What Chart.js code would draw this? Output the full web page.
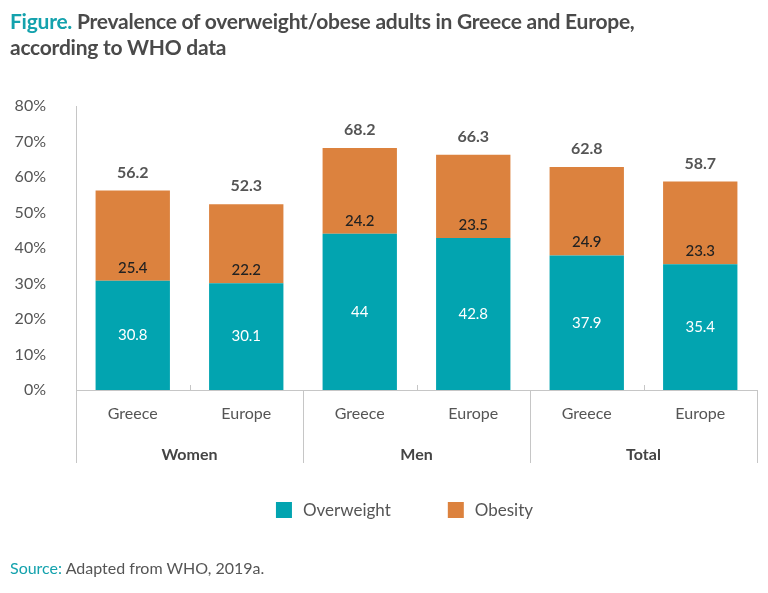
<!DOCTYPE html>
<html><head><meta charset="utf-8">
<script src="https://cdn.jsdelivr.net/npm/chart.js@4.4.0/dist/chart.umd.min.js"></script>
<style>
html,body{margin:0;padding:0;background:#fff;width:768px;height:593px;overflow:hidden;font-family:Lato,sans-serif}
#title{position:absolute;left:10px;top:8px;font-weight:700;font-size:21px;line-height:26px;color:#4a4a4a;letter-spacing:-0.25px}
#title .fig{color:#14a2ad}
#source{position:absolute;left:10px;top:558px;font-size:16px;color:#555}
#source .s{color:#14a2ad}
#wrap{position:absolute;left:0;top:0;width:768px;height:593px}
</style></head><body>
<div id="wrap"><canvas id="c"></canvas></div>
<div id="title"><span class="fig">Figure.</span> Prevalence of overweight/obese adults in Greece and Europe,<br>according to WHO data</div>
<div id="source"><span class="s">Source:</span> Adapted from WHO, 2019a.</div>
<script>
const categories = ['Greece','Europe','Greece','Europe','Greece','Europe'];
const groups = ['Women','Men','Total'];
const overweight = [30.8,30.1,44,42.8,37.9,35.4];
const obesity = [25.4,22.2,24.2,23.5,24.9,23.3];
const totals = [56.2,52.3,68.2,66.3,62.8,58.7];
const seriesNames = ['Overweight','Obesity'];
const yMax = 80, yStep = 10;

const TEAL = '#02a4b0', ORANGE = '#dc823e', LINE = '#c6c6c6';

const labelsPlugin = {
  id: 'labelsPlugin',
  afterDatasetsDraw(chart) {
    const ctx = chart.ctx;
    const m0 = chart.getDatasetMeta(0), m1 = chart.getDatasetMeta(1);
    const ys = chart.scales.y, xs = chart.scales.x;
    const area = chart.chartArea;
    ctx.save();
    ctx.textAlign = 'center'; ctx.textBaseline = 'middle';
    m0.data.forEach((bar, i) => {
      ctx.fillStyle = '#ffffff'; ctx.font = '15px Lato';
      ctx.fillText(String(overweight[i]), bar.x, (bar.y + bar.base) / 2);
    });
    m1.data.forEach((bar, i) => {
      ctx.fillStyle = '#222222'; ctx.font = '500 15px Lato';
      ctx.fillText(String(obesity[i]), bar.x, bar.base - 13);
      ctx.fillStyle = '#555555'; ctx.font = 'bold 16px Lato';
      ctx.fillText(String(totals[i]), bar.x, ys.getPixelForValue(totals[i]) - 18);
    });
    ctx.strokeStyle = LINE; ctx.lineWidth = 1;
    const bottom = area.bottom;
    const px = i => xs.getPixelForValue(i);
    const bounds = [area.left];
    for (let g = 1; g < groups.length; g++) bounds.push((px(2*g-1) + px(2*g)) / 2);
    bounds.push(area.right);
    bounds.forEach(x => {
      ctx.beginPath(); ctx.moveTo(Math.round(x)+0.5, bottom); ctx.lineTo(Math.round(x)+0.5, bottom + 73); ctx.stroke();
    });
    for (let g = 0; g < groups.length; g++) {
      const x = (px(2*g) + px(2*g+1)) / 2;
      ctx.beginPath(); ctx.moveTo(Math.round(x)+0.5, bottom - 5); ctx.lineTo(Math.round(x)+0.5, bottom); ctx.stroke();
      ctx.fillStyle = '#444444'; ctx.font = 'bold 16px Lato';
      ctx.fillText(groups[g], x, bottom + 65);
    }
    // legend built from the datasets
    ctx.font = '17px Lato'; ctx.textAlign = 'left';
    const box = 16, gapText = 11, gapItem = 57;
    const ds = chart.data.datasets;
    const widths = ds.map(d => box + gapText + ctx.measureText(d.label).width);
    const total = widths.reduce((a, b) => a + b, 0) + gapItem * (ds.length - 1);
    let lx = (area.left + area.right) / 2 - total / 2 - 12;
    const ly = bottom + 120;
    ds.forEach((d, i) => {
      ctx.fillStyle = d.backgroundColor;
      ctx.fillRect(lx, ly - box / 2, box, box);
      ctx.fillStyle = '#555555';
      ctx.fillText(d.label, lx + box + gapText, ly + 1);
      lx += widths[i] + gapItem;
    });
    ctx.restore();
  }
};

function build() {
  new Chart(document.getElementById('c'), {
    type: 'bar',
    data: {
      labels: categories,
      datasets: [
        { label: seriesNames[0], data: overweight, backgroundColor: TEAL, borderWidth: 0 },
        { label: seriesNames[1], data: obesity, backgroundColor: ORANGE, borderWidth: 0 }
      ]
    },
    options: {
      responsive: true, maintainAspectRatio: false, animation: false,
      layout: { padding: { top: 106, left: 12, right: 11, bottom: 140 } },
      datasets: { bar: { barPercentage: 0.655, categoryPercentage: 1 } },
      plugins: {
        title: { display: false }, tooltip: { enabled: false },
        legend: { display: false }
      },
      scales: {
        x: {
          stacked: true,
          grid: { display: false },
          border: { display: true, color: LINE },
          ticks: { color: '#555', padding: 6, font: { family: 'Lato', size: 16 } },
          afterFit(s) { s.height = 63; }
        },
        y: {
          stacked: true, min: 0, max: yMax,
          grid: { display: false, drawTicks: false },
          border: { display: true, color: LINE },
          ticks: { stepSize: yStep, color: '#555', padding: 30, font: { family: 'Lato', size: 16 }, callback: v => v + '%' },
          afterFit(s) { s.width = 64; }
        }
      }
    },
    plugins: [labelsPlugin]
  });
}
if (document.fonts && document.fonts.load) {
  Promise.all([document.fonts.load('16px Lato'), document.fonts.load('17px Lato'), document.fonts.load('bold 16px Lato'), document.fonts.load('500 15px Lato')]).then(build, build);
} else build();
</script>
</body></html>
